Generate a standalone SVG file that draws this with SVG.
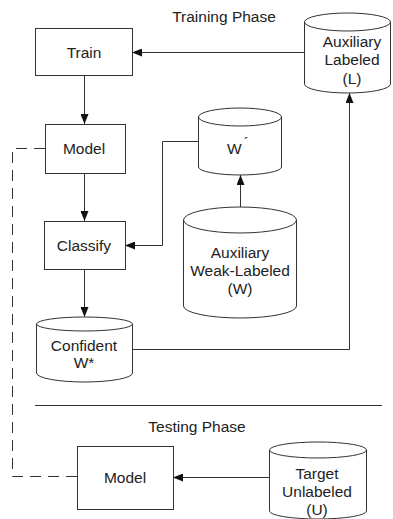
<svg xmlns="http://www.w3.org/2000/svg" width="393" height="519" viewBox="0 0 393 519">
<defs>
<marker id="arr" viewBox="0 0 10 8" refX="10" refY="4" markerWidth="10" markerHeight="8" markerUnits="userSpaceOnUse" orient="auto">
<path d="M0,0 L10,4 L0,8 z" fill="#111"/>
</marker>
</defs>
<style>
.box{fill:#fff;stroke:#333;stroke-width:1}
.cyl{fill:#fff;stroke:#333;stroke-width:1}
.ln{fill:none;stroke:#333;stroke-width:1}
.dash{fill:none;stroke:#333;stroke-width:1;stroke-dasharray:11,7}
text{font-family:"Liberation Sans",Arial,sans-serif;font-size:15.5px;fill:#222;text-anchor:middle}
</style>
<rect width="393" height="519" fill="#fff"/>
<text x="224" y="22">Training Phase</text>
<text x="197" y="432">Testing Phase</text>
<line class="ln" x1="35" y1="405.5" x2="382" y2="405.5"/>
<g id="connectors">
<line class="ln" x1="304" y1="52.5" x2="132" y2="52.5" marker-end="url(#arr)"/>
<line class="ln" x1="84.5" y1="75" x2="84.5" y2="124" marker-end="url(#arr)"/>
<line class="ln" x1="84.5" y1="173" x2="84.5" y2="221" marker-end="url(#arr)"/>
<polyline class="ln" points="198,141.5 162.5,141.5 162.5,245.5 125,245.5" marker-end="url(#arr)"/>
<line class="ln" x1="240.5" y1="207" x2="240.5" y2="175" marker-end="url(#arr)"/>
<line class="ln" x1="84.5" y1="269" x2="84.5" y2="317" marker-end="url(#arr)"/>
<polyline class="ln" points="132,349.5 349.5,349.5 349.5,93" marker-end="url(#arr)"/>
<line class="ln" x1="269" y1="477.5" x2="173" y2="477.5" marker-end="url(#arr)"/>
<polyline class="dash" points="45,148.5 12.5,148.5 12.5,476.5 77,476.5"/>
</g>
<g id="train">
<rect class="box" x="35.5" y="28.5" width="97" height="47"/>
<text x="84" y="58">Train</text>
</g>
<g id="aux-labeled">
<path class="cyl" d="M304.5,22 A43,9 0 0 1 390.5,22 A43,9 0 0 1 304.5,22 Z M304.5,22 L304.5,84 A43,9 0 0 0 390.5,84 L390.5,22"/>
<text x="352" y="47">Auxiliary</text>
<text x="352" y="65">Labeled</text>
<text x="352" y="84">(L)</text>
</g>
<g id="model">
<rect class="box" x="45.5" y="124.5" width="80" height="49"/>
<text x="84" y="154">Model</text>
</g>
<g id="w-prime">
<path class="cyl" d="M198.5,117 A41.5,9 0 0 1 281.5,117 A41.5,9 0 0 1 198.5,117 Z M198.5,117 L198.5,167 A41.5,8 0 0 0 281.5,167 L281.5,117"/>
<text x="238" y="154">W<tspan dx="2" dy="-6">´</tspan></text>
</g>
<g id="classify">
<rect class="box" x="44.5" y="221.5" width="81" height="48"/>
<text x="84" y="251">Classify</text>
</g>
<g id="aux-weak">
<path class="cyl" d="M183.5,220 A56.5,13 0 0 1 296.5,220 A56.5,13 0 0 1 183.5,220 Z M183.5,220 L183.5,306 A56.5,12 0 0 0 296.5,306 L296.5,220"/>
<text x="240" y="258">Auxiliary</text>
<text x="240" y="276">Weak-Labeled</text>
<text x="240" y="294">(W)</text>
</g>
<g id="confident">
<path class="cyl" d="M36.5,324 A48,7 0 0 1 132.5,324 A48,7 0 0 1 36.5,324 Z M36.5,324 L36.5,373 A48,9 0 0 0 132.5,373 L132.5,324"/>
<text x="84" y="351">Confident</text>
<text x="84" y="368">W*</text>
</g>
<g id="model-test">
<rect class="box" x="77.5" y="446.5" width="96" height="63"/>
<text x="125" y="483">Model</text>
</g>
<g id="target">
<path class="cyl" d="M269.5,450 A48.5,8 0 0 1 366.5,450 A48.5,8 0 0 1 269.5,450 Z M269.5,450 L269.5,511 A48.5,8 0 0 0 366.5,511 L366.5,450"/>
<text x="317" y="479">Target</text>
<text x="317" y="497">Unlabeled</text>
<text x="317" y="515">(U)</text>
</g>
</svg>
